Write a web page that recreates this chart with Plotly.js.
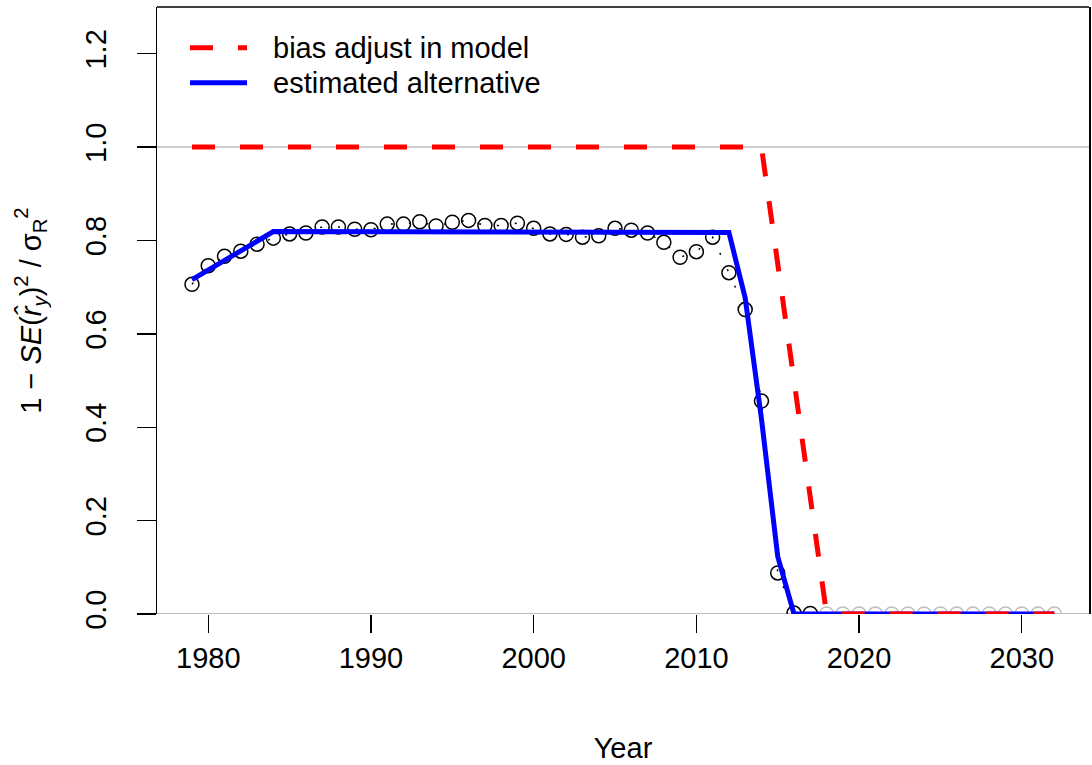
<!DOCTYPE html>
<html>
<head>
<meta charset="utf-8">
<script src="https://cdn.plot.ly/plotly-3.0.1.min.js"></script>
<style>html,body{margin:0;padding:0;background:#fff}#chart{width:1092px;height:765px}</style>
</head>
<body>
<div id="chart"></div>
<script>
// Observed points (black open circles)
const obsYears = [1979,1980,1981,1982,1983,1984,1985,1986,1987,1988,1989,1990,1991,1992,1993,1994,1995,1996,1997,1998,1999,2000,2001,2002,2003,2004,2005,2006,2007,2008,2009,2010,2011,2012,2013,2014,2015,2016,2017];
const obsValues = [0.706,0.746,0.766,0.777,0.792,0.805,0.814,0.816,0.829,0.829,0.824,0.823,0.835,0.835,0.840,0.831,0.839,0.843,0.832,0.832,0.837,0.826,0.814,0.813,0.807,0.810,0.826,0.822,0.816,0.796,0.764,0.776,0.807,0.731,0.652,0.456,0.088,0.002,0.001];
// Projection years (grey open circles)
const zeroYears = [2018,2019,2020,2021,2022,2023,2024,2025,2026,2027,2028,2029,2030,2031,2032];
const zeroValues = [0,0,0,0,0,0,0,0,0,0,0,0,0,0,0];
// Estimated alternative bias ramp (blue)
const altYears = [1979,1984,2012,2013,2014,2015,2016,2032];
const altValues = [0.716,0.819,0.817,0.677,0.418,0.123,0,0];
// Bias adjust in model (red dashed)
const modelYears = [1979,2014,2018,2032];
const modelValues = [1,1,0,0];
// Axis ticks
const xTickVals = [1980,1990,2000,2010,2020,2030];
const yTickVals = [0,0.2,0.4,0.6,0.8,1.0,1.2];
const yTickText = ["0.0","0.2","0.4","0.6","0.8","1.0","1.2"];
// Legend entries
const legendNames = ["bias adjust in model", "estimated alternative"];
const legendColors = ["#ff0000", "#0000ff"];
const legendDashes = ["23px,25px", "solid"];

const FONT = "Liberation Sans, Arial, Helvetica, sans-serif";

const traces = [
  {x: zeroYears, y: zeroValues, mode: "markers", type: "scatter", showlegend: false,
   marker: {symbol: "circle-open", size: 14, color: "#bebebe", line: {width: 1.5, color: "#bebebe"}}},
  {x: obsYears, y: obsValues, mode: "lines+markers", type: "scatter", showlegend: false,
   line: {color: "black", width: 1.5, dash: "2px,16px"},
   marker: {symbol: "circle-open", size: 14, color: "black", line: {width: 1.5, color: "black"}}},
  {x: altYears, y: altValues, mode: "lines", type: "scatter", name: legendNames[1], showlegend: false,
   line: {color: legendColors[1], width: 5}},
  {x: modelYears, y: modelValues, mode: "lines", type: "scatter", name: legendNames[0], showlegend: false,
   line: {color: legendColors[0], width: 5, dash: legendDashes[0]}}
];

// Legend geometry (paper coordinates), placed top-left inside the plot
const legX0 = 0.0354, legX1 = 0.0966, legTextX = 0.1223;
const legRowY = [0.9329, 0.8751];

const shapes = [
  {type: "line", xref: "paper", yref: "paper", x0: 0, x1: 1, y0: 1, y1: 1, layer: "below",
   line: {color: "black", width: 1.5}},
  {type: "line", xref: "paper", yref: "y", x0: 0, x1: 1, y0: 1, y1: 1, layer: "below",
   line: {color: "#bebebe", width: 1.5}},
  {type: "line", xref: "paper", yref: "y", x0: 0, x1: 1, y0: 0, y1: 0, layer: "below",
   line: {color: "#bebebe", width: 2}}
];
const annotations = [];
legendNames.forEach((name, i) => {
  shapes.push({type: "line", xref: "paper", yref: "paper", x0: legX0, x1: legX1, y0: legRowY[i], y1: legRowY[i],
               line: {color: legendColors[i], width: 5, dash: legendDashes[i]}});
  annotations.push({xref: "paper", yref: "paper", x: legTextX, y: legRowY[i], xanchor: "left", yanchor: "middle",
                    showarrow: false, text: name, font: {family: FONT, size: 29, color: "black"}});
});

const layout = {
  width: 1092, height: 765,
  margin: {l: 157, r: 3, t: 7, b: 151, pad: 0},
  paper_bgcolor: "white", plot_bgcolor: "white",
  font: {family: FONT, size: 29, color: "black"},
  showlegend: false,
  xaxis: {range: [1976.85, 2034.13], tickvals: xTickVals, ticks: "outside", ticklen: 18,
          tickwidth: 1.3, tickcolor: "black", showgrid: false, zeroline: false, showline: false,
          tickfont: {family: FONT, size: 29, color: "black"},
          title: {text: "Year", font: {family: FONT, size: 29, color: "black"}, standoff: 64}},
  yaxis: {range: [0, 1.3], tickvals: yTickVals, ticktext: yTickText, ticks: "outside", ticklen: 19,
          tickwidth: 1.3, tickcolor: "black", tickangle: -90, ticklabelstandoff: 19,
          showgrid: false, zeroline: false, showline: true, mirror: true, linecolor: "black", linewidth: 1.5,
          tickfont: {family: FONT, size: 29, color: "black"},
          title: {text: "1 − <i>SE</i>(<i>r̂</i><sub><i>y</i></sub>)<sup>2</sup> / σ<sub>R</sub><sup>2</sup>",
                  font: {family: FONT, size: 29, color: "black"}, standoff: 30}},
  shapes: shapes,
  annotations: annotations
};

Plotly.newPlot("chart", traces, layout, {displayModeBar: false, staticPlot: true});
</script>
</body>
</html>
